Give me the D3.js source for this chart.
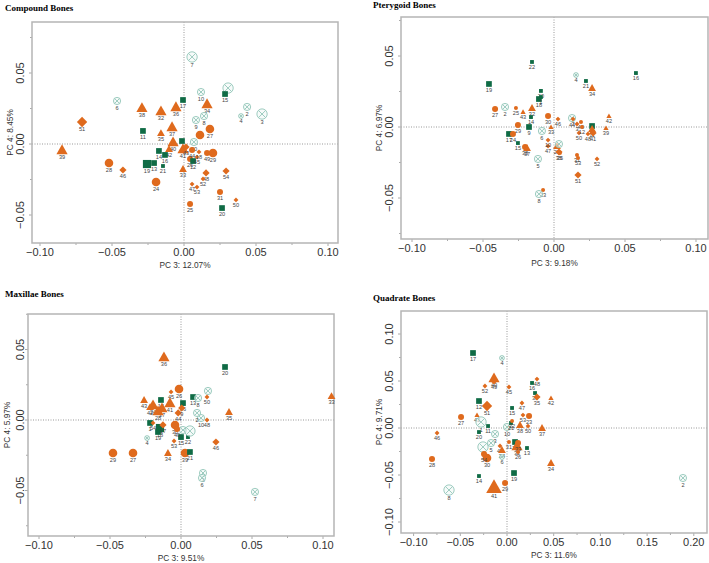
<!DOCTYPE html>
<html>
<head>
<meta charset="utf-8">
<script src="https://cdn.jsdelivr.net/npm/d3@7"></script>
<style>
  body { margin: 0; background: #fff; }
  svg { display: block; }
</style>
</head>
<body>
<svg id="chart" width="709" height="563"></svg>
<script>
// [label, shape, size, PC3, PC4]   shapes: c circle, t triangle, d diamond, s square, x crossed circle
const compound = [
  ["7","x",3,0.0056,0.0613],["10","x",2,0.0118,0.0366],["","x",3,0.0306,0.0394],["15","s",2,0.0285,0.0352],
  ["2","x",2,0.0438,0.0261],["3","x",3,0.0542,0.0211],["4","x",1,0.0396,0.0197],["6","x",2,-0.0465,0.0303],
  ["51","d",3,-0.0708,0.0155],["38","t",3,-0.0292,0.0254],["32","t",3,-0.016,0.0232],["36","t",3,-0.0056,0.0261],
  ["17","s",2,-0.0007,0.031],["34","t",3,0.016,0.0282],["9","x",2,0.0083,0.0169],["8","x",2,0.0139,0.0197],
  ["27","c",3,0.018,0.0106],["11","s",2,-0.0285,0.0092],["35","t",2,-0.016,0.0077],["37","t",3,-0.0083,0.012],
  ["30","x",2,0.0069,0.0014],["","c",3,0.0111,0.0063],["40","t",3,-0.0076,0.0014],["","s",2,-0.0014,0.0021],
  ["41","t",3,-0.0007,-0.0035],["42","t",2,-0.0104,-0.0035],["14","s",2,-0.0174,-0.0049],["16","s",2,-0.0132,-0.0077],
  ["39","t",3,-0.0847,-0.0042],["28","c",3,-0.0521,-0.0134],["46","d",2,-0.0424,-0.0183],["19","s",3,-0.0257,-0.0141],
  ["13","s",2,-0.0208,-0.0134],["21","s",1,-0.0146,-0.0155],["24","c",3,-0.0194,-0.0268],["33","t",2,-0.0007,-0.0176],
  ["47","d",1,0.0056,-0.0282],["53","d",1,0.009,-0.0303],["48","d",2,0.0153,-0.0204],["52","d",1,0.0132,-0.0246],
  ["54","d",2,0.0292,-0.019],["31","c",2,0.025,-0.0338],["50","d",1,0.0361,-0.0394],["25","c",2,0.0042,-0.0423],
  ["20","s",2,0.0264,-0.0451],["49","c",2,0.016,-0.0063],["29","c",3,0.0201,-0.0063],["26","c",2,0.0042,-0.0106],
  ["12","s",2,0.0063,-0.012],["45","d",1,0.009,-0.0092],["44","c",2,0.0056,-0.0042],["43","d",2,0.0014,-0.0021],
  ["18","d",1,0.0104,-0.0056]
];

const pterygoid = [
  ["22","s",1,-0.0155,0.0458],["19","s",2,-0.0458,0.0303],["4","x",1,0.0155,0.0366],["21","s",1,0.0225,0.0324],
  ["16","s",1,0.0577,0.038],["34","t",2,0.0268,0.0275],["20","s",1,-0.0092,0.0254],["18","s",2,-0.0106,0.0197],
  ["1","s",1,-0.0092,0.0211],["27","c",2,-0.0415,0.0127],["2","x",2,-0.0345,0.0141],["25","c",1,-0.0268,0.0134],
  ["43","t",1,-0.0218,0.0106],["32","t",2,-0.0155,0.0134],["14","s",1,-0.0162,0.007],["30","c",2,-0.0042,0.0077],
  ["46","d",1,0.0028,0.0056],["42","t",1,0.0387,0.0077],["39","t",1,0.0366,-0.0007],["29","c",2,-0.0254,0.0014],
  ["9","s",2,-0.0176,0],["6","x",2,-0.0085,-0.0028],["33","t",1,-0.0021,0],["13","s",2,0.0268,0.0007],
  ["11","t",2,0.0268,-0.0014],["44","x",2,0.0127,0.0063],["7","d",1,0.0134,0.0056],["49","c",1,0.019,0.0035],
  ["3","d",1,0.0162,0.0021],["17","s",2,-0.0317,-0.0049],["24","c",2,-0.0289,-0.0049],["15","s",1,-0.0254,-0.0113],
  ["38","c",2,-0.0204,-0.0141],["37","t",2,-0.019,-0.0148],["5","x",2,-0.0113,-0.0225],["47","d",1,-0.0042,-0.0134],
  ["10","d",1,-0.0042,-0.0092],["28","t",2,0.0021,-0.0134],["","x",2,0.0035,-0.012],["35","d",2,0.0035,-0.0176],
  ["36","c",1,0.0042,-0.0183],["31","c",1,0.0162,-0.0197],["53","c",1,0.0169,-0.0218],["52","d",1,0.0303,-0.0225],
  ["51","d",2,0.0169,-0.0338],["23","c",1,-0.0077,-0.0444],["8","x",2,-0.0106,-0.0472],["48","d",1,0.0239,-0.0049],
  ["41","d",2,0.0275,-0.0042],["50","d",1,0.0176,-0.0042],["12","c",1,0.0197,0]
];

const maxillae = [
  ["36","t",3,-0.012,0.0447],["20","s",2,0.031,0.0376],["33","t",2,0.106,0.017],["","x",2,0.019,0.0206],
  ["50","d",1,0.0183,0.0163],["13","s",2,0.0085,0.0163],["8","x",2,0.012,0.0156],["45","d",1,-0.007,0.0199],
  ["26","c",3,-0.0014,0.022],["14","s",2,-0.0141,0.0142],["43","t",2,-0.026,0.0142],["24","t",3,-0.0197,0.0106],
  ["37","t",3,-0.0134,0.0085],["41","t",3,-0.0078,0.0121],["28","t",3,-0.0162,0.0064],["42","t",2,-0.0218,0.0092],
  ["16","s",2,0.0014,0.012],["35","t",2,0.0338,0.0057],["29","c",3,-0.0479,-0.0234],["27","c",3,-0.0338,-0.0234],
  ["34","t",2,-0.0092,-0.0234],["39","c",3,0.0028,-0.0234],["21","s",2,0.0063,-0.0227],["53","d",1,-0.0049,-0.0149],
  ["4","x",1,-0.0239,-0.0128],["46","d",2,0.0246,-0.0156],["3","x",2,0.0155,-0.0376],["6","x",2,0.0148,-0.0411],
  ["7","x",2,0.0521,-0.051],["15","s",2,0,-0.0121],["22","s",1,0.0049,-0.0121],["18","s",3,-0.0148,-0.0057],
  ["19","s",2,-0.0162,-0.0085],["1","s",2,-0.0218,-0.0021],["","x",2,0.0014,-0.0071],["","x",3,0.0063,-0.0078],
  ["10","x",2,0.0141,0.0014],["48","d",1,0.0183,0],["2","x",2,0.0113,0.005],["38","c",3,-0.0042,-0.0035],
  ["40","c",2,-0.0028,-0.0064],["17","d",2,-0.0127,-0.0035],["54","d",1,-0.0197,-0.0021],["44","d",2,-0.002,0.005],
  ["9","d",2,0.0005,0.0085]
];

const quadrate = [
  ["17","s",2,-0.0364,0.0798],["4","x",1,-0.0054,0.0745],["52","d",1,-0.0236,0.0447],["40","t",3,-0.0139,0.0532],
  ["49","d",2,-0.0139,0.05],["45","d",1,0.0021,0.0436],["16","s",1,0.0268,0.0479],["48","d",1,0.0321,0.0521],
  ["36","s",1,0.03,0.0372],["35","d",2,0.0321,0.033],["42","t",1,0.0471,0.0319],["12","s",2,-0.03,0.0287],
  ["51","d",3,-0.0214,0.0234],["47","d",1,0.016,0.0266],["15","s",1,0.0054,0.0213],["43","t",1,-0.0321,0.0138],
  ["27","c",2,-0.0492,0.0117],["1","x",3,-0.0278,0.0064],["11","s",1,-0.0203,0.0021],["20","s",1,-0.03,-0.0043],
  ["46","d",1,-0.0749,-0.0053],["3","x",2,-0.0128,-0.0064],["10","x",2,0,0.0011],["21","s",1,0.0043,0.0053],
  ["53","d",1,0.0171,0.0138],["23","c",2,0.0236,0.0128],["22","c",1,0.0054,0.0074],["38","t",2,0.0139,0.0032],
  ["50","d",1,0.0225,0.0021],["37","t",2,0.0375,0],["5","x",2,-0.0171,-0.016],["7","x",3,-0.0257,-0.0202],
  ["31","c",1,0.0021,-0.0149],["18","s",2,0.0086,-0.0149],["32","t",3,0.0107,-0.0191],["33","c",2,0.0118,-0.016],
  ["13","s",1,0.0214,-0.0213],["26","c",1,0.0118,-0.0255],["44","d",1,-0.0075,-0.0191],["24","t",2,-0.0054,-0.0234],
  ["6","x",1,-0.0054,-0.0309],["30","c",3,-0.0214,-0.0319],["54","c",2,-0.0246,-0.0277],["28","c",2,-0.0803,-0.033],
  ["34","t",2,0.0471,-0.0372],["14","s",1,-0.03,-0.0511],["19","s",2,0.0075,-0.0479],["41","t",4,-0.0139,-0.0628],
  ["29","c",2,-0.0021,-0.0585],["8","x",3,-0.0621,-0.066],["2","x",2,0.1884,-0.0532]
];

const titles = ["Compound Bones", "Pterygoid Bones", "Maxillae Bones", "Quadrate Bones"];
const xTitles = ["PC 3: 12.07%", "PC 3: 9.18%", "PC 3: 9.51%", "PC 3: 11.6%"];
const yTitles = ["PC 4: 8.45%", "PC 4: 6.97%", "PC 4: 5.97%", "PC 4: 9.71%"];
const xTickVals = [[-0.1,-0.05,0,0.05,0.1],[-0.1,-0.05,0,0.05,0.1],[-0.1,-0.05,0,0.05,0.1],[-0.1,-0.05,0,0.05,0.1,0.15,0.2]];
const yTickVals = [[-0.05,0,0.05],[-0.05,0,0.05],[-0.05,0,0.05],[-0.1,-0.05,0,0.05,0.1]];

// layout: frame box, pixel of origin, px per unit
const panels = [
  { data: compound,  frame: [32, 22, 338, 243],  x0: 184, y0: 144, kx: 1440, ky: 1420, title: [5, 11],   xt: 268, yt: 10,  ytl: 20 },
  { data: pterygoid, frame: [401, 17, 708, 239], x0: 554, y0: 127, kx: 1420, ky: 1420, title: [373, 8],  xt: 266, yt: 379, ytl: 389 },
  { data: maxillae,  frame: [28, 314, 334, 536], x0: 181, y0: 420, kx: 1420, ky: 1410, title: [5, 297],  xt: 561, yt: 7,   ytl: 20 },
  { data: quadrate,  frame: [401, 311, 707, 533], x0: 507, y0: 428, kx: 934, ky: 940,  title: [373, 301], xt: 558, yt: 379, ytl: 389 }
];

const ORANGE = "#df6a1d", GREEN = "#0f6b45", TEAL = "#93c6b9";
const radius = { 1: 2, 2: 3, 3: 4.3, 4: 6 };

const svg = d3.select("#chart");
const fmt = d3.format(".2f");

panels.forEach((p, i) => {
  const [l, t, r, b] = p.frame;
  const x = d3.scaleLinear().domain([(l - p.x0) / p.kx, (r - p.x0) / p.kx]).range([l, r]);
  const y = d3.scaleLinear().domain([(p.y0 - b) / p.ky, (p.y0 - t) / p.ky]).range([b, t]);
  const g = svg.append("g");

  g.append("text").attr("x", p.title[0]).attr("y", p.title[1])
    .style("font-family", "Liberation Serif, Times New Roman, serif").style("font-weight", "bold")
    .style("font-size", "9px").text(titles[i]);

  // zero lines
  g.append("line").attr("x1", x(0)).attr("x2", x(0)).attr("y1", t).attr("y2", b)
    .attr("stroke", "#999").attr("stroke-dasharray", "1,1.5");
  g.append("line").attr("x1", l).attr("x2", r).attr("y1", y(0)).attr("y2", y(0))
    .attr("stroke", "#999").attr("stroke-dasharray", "1,1.5");

  // ticks (major + minor)
  const xd = x.domain(), yd = y.domain();
  d3.range(Math.ceil(xd[0] / 0.025), Math.floor(xd[1] / 0.025) + 1).forEach(k => {
    const major = k % 2 === 0;
    g.append("line").attr("x1", x(k * 0.025)).attr("x2", x(k * 0.025))
      .attr("y1", b).attr("y2", b + (major ? 3 : 2)).attr("stroke", "#aaa");
  });
  d3.range(Math.ceil(yd[0] / 0.025), Math.floor(yd[1] / 0.025) + 1).forEach(k => {
    const major = k % 2 === 0;
    g.append("line").attr("y1", y(k * 0.025)).attr("y2", y(k * 0.025))
      .attr("x1", l).attr("x2", l - (major ? 3 : 2)).attr("stroke", "#aaa");
  });

  g.append("rect").attr("x", l).attr("y", t).attr("width", r - l).attr("height", b - t)
    .attr("fill", "none").attr("stroke", "#b5b5b5").attr("stroke-width", 1.5);

  g.selectAll(".xt").data(xTickVals[i]).join("text")
    .attr("x", d => x(d)).attr("y", b + 13).attr("text-anchor", "middle")
    .style("font-family", "Liberation Sans, Arial, sans-serif").style("font-size", "11px")
    .attr("fill", "#333").text(fmt);
  g.selectAll(".yt").data(yTickVals[i]).join("text")
    .attr("transform", d => `translate(${p.ytl + 4},${y(d)}) rotate(-90)`).attr("text-anchor", "middle")
    .style("font-family", "Liberation Sans, Arial, sans-serif").style("font-size", "11px")
    .attr("fill", "#333").text(fmt);

  g.append("text").attr("x", (l + r) / 2).attr("y", p.xt).attr("text-anchor", "middle")
    .style("font-family", "Liberation Sans, Arial, sans-serif").style("font-size", "8.3px")
    .attr("fill", "#333").text(xTitles[i]);
  g.append("text").attr("transform", `translate(${p.yt + 3},${(t + b) / 2}) rotate(-90)`).attr("text-anchor", "middle")
    .style("font-family", "Liberation Sans, Arial, sans-serif").style("font-size", "8.3px")
    .attr("fill", "#333").text(yTitles[i]);

  const pts = g.append("g");
  p.data.forEach(d => {
    const [lab, sh, sz, vx, vy] = d;
    const cx = x(vx), cy = y(vy);
    let rr = radius[sz];
    if (sh === "c") {
      pts.append("circle").attr("cx", cx).attr("cy", cy).attr("r", rr).attr("fill", ORANGE);
    } else if (sh === "t") {
      const a = rr * 1.3;
      pts.append("path").attr("d", `M${cx},${cy - a}L${cx + a},${cy + a * 0.75}L${cx - a},${cy + a * 0.75}Z`).attr("fill", ORANGE);
    } else if (sh === "d") {
      const a = rr * 1.2;
      pts.append("path").attr("d", `M${cx},${cy - a}L${cx + a},${cy}L${cx},${cy + a}L${cx - a},${cy}Z`).attr("fill", ORANGE);
    } else if (sh === "s") {
      const a = rr * 0.95;
      pts.append("rect").attr("x", cx - a).attr("y", cy - a).attr("width", 2 * a).attr("height", 2 * a).attr("fill", GREEN);
    } else {
      rr = rr * 1.2;
      const a = rr * 0.7;
      pts.append("circle").attr("cx", cx).attr("cy", cy).attr("r", rr)
        .attr("fill", "#f2f8f6").attr("fill-opacity", 0.6).attr("stroke", TEAL).attr("stroke-width", 0.9);
      pts.append("path").attr("d", `M${cx - a},${cy - a}L${cx + a},${cy + a}M${cx - a},${cy + a}L${cx + a},${cy - a}`)
        .attr("stroke", TEAL).attr("stroke-width", 0.9);
    }
    if (lab) {
      pts.append("text").attr("x", cx).attr("y", cy + rr + 5).attr("text-anchor", "middle")
        .style("font-family", "Liberation Sans, Arial, sans-serif").style("font-size", "5.6px")
        .attr("fill", "#444").text(lab);
    }
  });
});
</script>
</body>
</html>
